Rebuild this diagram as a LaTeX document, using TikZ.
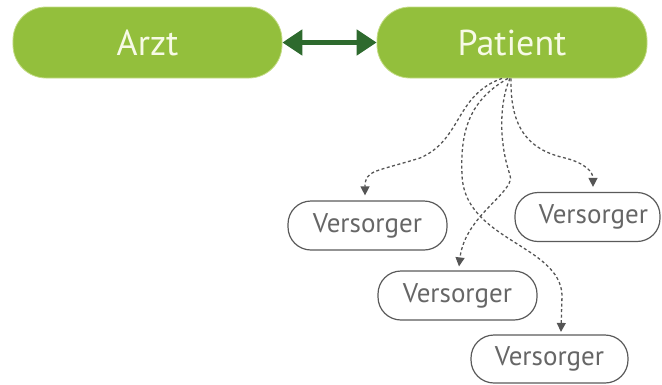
\documentclass[tikz,border=0pt]{standalone}
\usepackage{fontspec}
\setmainfont{PT Sans}
\usetikzlibrary{arrows.meta}
\definecolor{boxgreen}{HTML}{93BF3C}
\definecolor{rimgreen}{HTML}{C4DC86}
\definecolor{txtcream}{HTML}{F7FAE6}
\definecolor{arrgreen}{HTML}{2E6A2E}
\definecolor{vline}{HTML}{5A5A5A}
\definecolor{vtext}{HTML}{666666}
\definecolor{dashgray}{HTML}{8A8A8A}
\definecolor{tipgray}{HTML}{555555}
\tikzset{
  mainbox/.style={rectangle, rounded corners=33bp, fill=boxgreen, draw=rimgreen, line width=0.8bp,
    minimum width=269bp, minimum height=71bp, inner sep=0pt, text=txtcream,
    font=\fontsize{36bp}{40bp}\selectfont},
  vbox/.style={rectangle, rounded corners=23bp, draw=vline, line width=1.2bp, fill=white,
    minimum width=159bp, minimum height=49bp, inner sep=0pt, text=vtext,
    font=\fontsize{27bp}{30bp}\selectfont},
  link/.style={draw=dashgray, line width=1.3bp, dash pattern=on 3bp off 2.5bp,
    -{Triangle[length=9bp,width=9bp]}, tipgray},
  biarrow/.style={draw=arrgreen, line width=5bp,
    {Triangle[length=20bp,width=25bp]}-{Triangle[length=20bp,width=25bp]}}
}
\begin{document}
\begin{tikzpicture}[x=1bp,y=-1bp]
\useasboundingbox (0,0) rectangle (662,384);
\node[mainbox] (arzt) at (147.5,42.5) {Arzt};
\node[mainbox, minimum width=270bp] (patient) at (512,42.5) {Patient};
\draw[biarrow] (arzt.east) -- (patient.west);

\node[vbox] (v1) at (367.5,225.5) {Versorger};
\node[vbox] (v2) at (457.5,295.5) {Versorger};
\node[vbox, minimum width=157bp, minimum height=48bp] (v3) at (549.5,359) {Versorger};
\node[vbox, minimum width=145bp] (v4) at (587.5,217) {\kern12bp Versorger};

\coordinate (s1) at ([xshift=-10bp]patient.south);
\coordinate (sA) at ([xshift=-4bp]patient.south);
\coordinate (sB) at ([xshift=-2bp]patient.south);
\coordinate (sC) at ([xshift=-1bp]patient.south);
\coordinate (t1) at ([xshift=-2.5bp,yshift=5bp]v1.north);
\coordinate (t2) at ([xshift=1.5bp,yshift=4bp]v2.north);
\coordinate (t3) at ([xshift=11.5bp,yshift=2.5bp]v3.north);
\coordinate (t4) at ([xshift=5.5bp,yshift=5bp]v4.north);

\draw[link] (s1) .. controls (455,95) and (462,140) .. (420,158)
  .. controls (375,172) and (365,170) .. (t1);
\draw[link] (sA) .. controls (470,100) and (460,130) .. (462,175)
  .. controls (464,240) and (560,245) .. (562,295) -- (t3);
\draw[link] (sB) .. controls (500,100) and (498,140) .. (510,175)
  .. controls (516,192) and (465,215) .. (t2);
\draw[link] (sC) .. controls (510,130) and (530,150) .. (565,158)
  .. controls (585,163) and (593,172) .. (t4);
\end{tikzpicture}
\end{document}
